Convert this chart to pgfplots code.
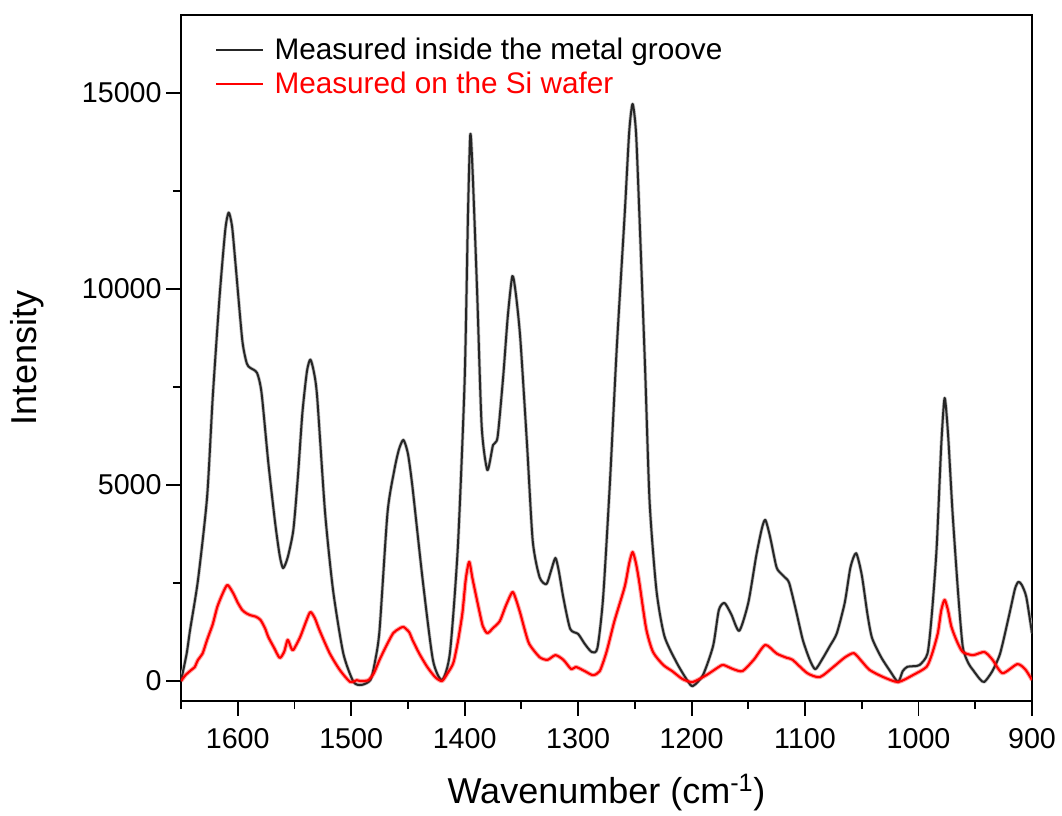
\documentclass[border=0pt]{standalone}
\usepackage{pgfplots}
\pgfplotsset{compat=1.18}
\usepackage{fontspec}
\setmainfont{Liberation Sans}

% spectra (wavenumber, intensity)
\pgfplotstableread{
x y
1650 0
1645 700
1642 1300
1635 2580
1627 4690
1622 7250
1616 9800
1611 11500
1608 11950
1605 11600
1602 10660
1596 8700
1592 8100
1589 7990
1583 7860
1579 7350
1573 5560
1567 4030
1563 3200
1560 2880
1556 3150
1551 3850
1547 5200
1543 6840
1539 7900
1536 8200
1533 7900
1530 7250
1523 4290
1516 2320
1507 710
1498 -20
1491 -100
1483 25
1479 500
1475 1300
1468 4290
1462 5380
1458 5900
1454 6150
1450 5800
1446 4950
1437 2580
1428 540
1420 25
1413 710
1406 3420
1400 7680
1397 12000
1395 13950
1393 13000
1389 9920
1385 6500
1380 5380
1375 6020
1371 6220
1366 7780
1362 9300
1358 10330
1355 9900
1351 8750
1345 6020
1340 3570
1334 2650
1328 2470
1324 2800
1320 3140
1317 2800
1313 2120
1307 1330
1300 1200
1294 940
1288 740
1283 840
1278 2120
1272 5050
1266 8470
1259 11890
1255 14000
1252 14720
1249 14000
1246 11890
1241 7990
1237 4570
1231 2320
1224 1150
1213 460
1204 25
1199 -130
1190 150
1181 900
1176 1810
1171 1990
1165 1700
1158 1280
1150 2000
1143 3200
1138 3900
1135 4110
1131 3700
1126 3000
1124 2830
1118 2650
1114 2500
1108 1800
1102 1050
1096 550
1091 300
1085 550
1078 900
1072 1220
1065 2000
1060 2900
1055 3260
1050 2700
1045 1700
1041 1100
1033 610
1025 250
1018 -25
1014 250
1010 360
1004 380
999 410
992 710
988 1800
984 3420
980 6000
977 7220
974 6300
970 4290
965 2200
961 870
956 450
952 280
946 50
942 -25
935 250
928 710
920 1700
915 2350
912 2530
909 2450
905 2140
900 1220
}\groove

\pgfplotstableread{
x y
1650 0
1646 150
1641 280
1638 350
1635 540
1631 700
1627 1050
1622 1450
1618 1890
1613 2250
1609 2450
1604 2240
1600 2000
1596 1810
1592 1720
1589 1680
1584 1640
1580 1560
1576 1350
1573 1120
1568 850
1563 590
1559 750
1556 1050
1553 850
1551 790
1545 1120
1540 1500
1536 1760
1532 1600
1528 1300
1519 710
1510 280
1501 -20
1495 20
1492 0
1485 20
1480 200
1475 540
1469 900
1463 1220
1458 1330
1454 1380
1449 1250
1446 1050
1440 700
1433 360
1426 100
1420 0
1415 200
1410 460
1406 1000
1402 1730
1399 2600
1396 3040
1393 2600
1388 1910
1384 1400
1380 1220
1375 1350
1369 1530
1364 1900
1358 2270
1355 2100
1351 1730
1347 1300
1343 940
1334 610
1327 540
1320 660
1313 540
1306 300
1302 360
1294 250
1287 150
1281 250
1275 740
1268 1530
1259 2400
1255 3000
1252 3290
1249 3000
1246 2500
1240 1330
1234 740
1225 410
1217 250
1208 50
1199 -25
1187 150
1176 360
1172 410
1163 300
1155 255
1145 550
1135 920
1125 700
1116 590
1111 540
1098 200
1087 100
1075 360
1065 600
1057 710
1050 500
1043 280
1031 100
1018 -25
1005 150
993 360
988 700
983 1220
980 1800
977 2070
974 1800
971 1380
966 1000
961 740
952 660
942 740
935 550
926 200
913 430
906 300
900 25
}\wafer

\begin{document}
\begin{tikzpicture}
\begin{axis}[
  name=ax,
  scale only axis,
  width=638.25pt, height=514.5pt,
  x dir=reverse,
  xmin=900, xmax=1650,
  ymin=-510, ymax=16990,
  xtick={900,1000,...,1600},
  minor xtick={950,1050,...,1650},
  ytick={0,5000,10000,15000},
  minor ytick={2500,7500,12500},
  axis line style={line width=1.9pt},
  every tick/.style={black, line width=1.4pt},
  tick align=outside,
  tick pos=left,
  major tick length=11pt,
  minor tick length=6pt,
  ticklabel style={font=\fontsize{21.5}{25}\selectfont},
  xticklabel style={yshift=-6pt},
  /pgf/number format/assume math mode=true,
  /pgf/number format/1000 sep={},
  scaled ticks=false,
  xlabel={Wavenumber (cm\textsuperscript{-1})},
  ylabel={Intensity},
  label style={font=\fontsize{27}{32}\selectfont},
  xlabel style={at={(axis description cs:0.5,-0.134)}, anchor=center},
  ylabel style={at={(axis description cs:-0.181,0.5)}, anchor=center},
  legend style={draw=none, fill=none, at={(axis description cs:0.035,0.975)},
    anchor=north west, font=\fontsize{22.3}{27}\selectfont,
    row sep=4pt, /tikz/every odd column/.style={column sep=6pt}},
  legend cell align=left,
  legend image code/.code={\draw[#1] (0pt,0pt) -- (35pt,0pt);},
  every axis plot/.append style={smooth, tension=0.4, line join=round},
]
\addplot[black!25, line width=2.6pt, forget plot] table {\groove};
\addplot[black!85, line width=1.5pt] table {\groove};
\addlegendentry{Measured inside the metal groove}
\addplot[red, opacity=0.35, line width=3.2pt, forget plot] table {\wafer};
\addplot[red, line width=1.6pt] table {\wafer};
\addlegendentry{\textcolor{red}{Measured on the Si wafer}}
\end{axis}
\pgfresetboundingbox
\path[use as bounding box] (ax.south west) ++(-135.75pt,-86.25pt)
  rectangle ([shift={(22.5pt,11.25pt)}]ax.north east);
\end{tikzpicture}
\end{document}
